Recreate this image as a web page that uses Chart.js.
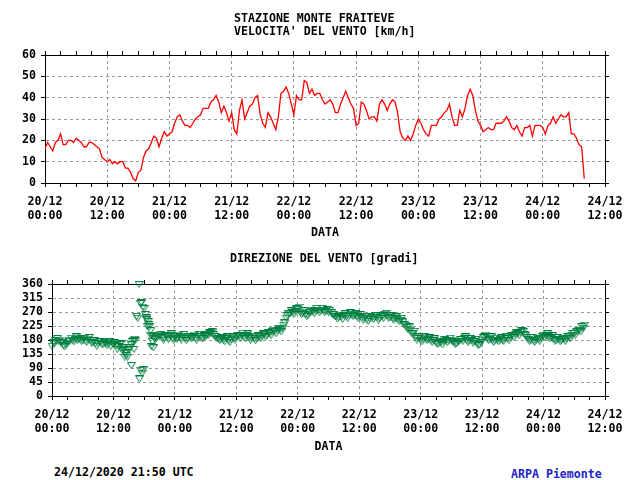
<!DOCTYPE html>
<html>
<head>
<meta charset="utf-8">
<script src="https://cdn.jsdelivr.net/npm/chart.js@4.4.0/dist/chart.umd.min.js"></script>
<style>
body { margin: 0; background: #fff; }
#wrap { position: relative; width: 640px; height: 480px; overflow: hidden; }
canvas { position: absolute; left: 0; }
.t { position: absolute; font-family: 'DejaVu Sans Mono', monospace; font-weight: bold; font-size: 11.6px; line-height: 14px; white-space: pre; color: #000; }
</style>
</head>
<body>
<div id="wrap">
  <canvas id="speed" width="640" height="240" style="top:0"></canvas>
  <canvas id="dir" width="640" height="209" style="top:245px"></canvas>
  <div class="t" style="left:234px; top:11px">STAZIONE MONTE FRAITEVE</div>
  <div class="t" style="left:234px; top:24px">VELOCITA' DEL VENTO [km/h]</div>
  <div class="t" style="left:230px; top:251px">DIREZIONE DEL VENTO [gradi]</div>
  <div class="t" style="left:54px; top:465px">24/12/2020 21:50 UTC</div>
  <div class="t" style="left:511px; top:467px; color:#2424c4">ARPA Piemonte</div>
</div>
<script>
// x axis: hours since 20/12 00:00, labels every 12 h
var dayLabels = ['20/12', '20/12', '21/12', '21/12', '22/12', '22/12', '23/12', '23/12', '24/12', '24/12'];
var timeLabels = ['00:00', '12:00', '00:00', '12:00', '00:00', '12:00', '00:00', '12:00', '00:00', '12:00'];

// wind speed km/h, one reading every half hour from 20/12 00:00
var speed = [
    16, 19, 17, 15, 19, 20, 23, 18, 18, 20, 20, 19,
    21, 20, 19, 17, 17, 19, 19, 18, 17, 16, 12, 11,
    10, 11, 9, 10, 9, 10, 10, 7, 7, 5, 2, 1,
    5, 6, 12, 15, 16, 19, 22, 21, 17, 21, 24, 22,
    23, 24, 28, 31, 32, 29, 27, 27, 26, 28, 30, 31,
    32, 35, 35, 35, 38, 39, 41, 38, 33, 36, 33, 29,
    33, 25, 23, 34, 39, 30, 33, 36, 37, 40, 41, 32,
    28, 26, 33, 31, 28, 25, 31, 42, 43, 45, 42, 37,
    32, 41, 39, 39, 48, 47, 42, 44, 41, 42, 42, 39,
    37, 38, 39, 37, 33, 33, 37, 40, 43, 40, 37, 35,
    27, 28, 38, 37, 34, 30, 31, 31, 29, 37, 39, 37,
    34, 37, 39, 38, 33, 24, 21, 20, 22, 20, 23, 27,
    30, 28, 25, 23, 22, 27, 27, 27, 30, 31, 33, 34,
    37, 31, 27, 27, 34, 31, 35, 41, 44, 41, 34, 29,
    27, 24, 25, 26, 25, 25, 28, 28, 28, 29, 31, 29,
    26, 25, 27, 24, 22, 26, 26, 27, 22, 27, 27, 27,
    26, 23, 27, 28, 31, 28, 30, 32, 31, 31, 33, 23,
    23, 21, 18, 17, 2
];

// wind direction degrees, on the hour and half hour
var direction = [
    160, 168, 185, 180, 172, 158, 170, 176, 180, 182, 178, 185,
    180, 177, 183, 179, 172, 168, 170, 174, 165, 170, 168, 160,
    166, 162, 158, 168, 150, 140,
    148, 165, 180, 256, 358, 300, 281, 245, 222, 196, 185, 190,
    192, 188, 186, 190, 194, 186,
    190, 185, 188, 192, 186, 184, 190, 188, 186, 192, 190, 186,
    190, 195, 200, 198, 192, 186, 182, 180, 184, 178, 182, 186,
    190, 194, 195, 190, 194, 188, 186, 184, 186, 190, 192, 198,
    196, 200, 206, 208, 210, 214, 218, 235, 258, 265, 268, 272,
    279, 270, 266, 262, 260, 268, 271, 275, 274, 276, 275, 272,
    270, 268, 262, 255, 252, 254, 258, 256, 260, 263, 258, 256,
    255, 252, 250, 247, 250, 253, 252, 252, 250, 256, 263, 258,
    252, 250, 248, 247, 244, 238, 228, 215, 212, 201, 190, 185,
    180, 183, 186, 182, 180, 178, 172, 168, 172, 175, 178, 180,
    180, 172, 168, 175, 182, 185, 180, 177, 178, 175, 170, 164,
    180, 190, 186, 182, 180, 178, 180, 182, 180, 184, 185, 190,
    196, 198, 201, 205, 207, 195, 182, 180, 178, 180, 182, 186,
    196, 194, 190, 188, 182, 180, 181, 180, 182, 185, 190, 196,
    201, 206, 212, 223, 228
];

// wind direction degrees at quarter past / quarter to
var directionQuarter = [
    172, 178, 176, 170, 162, 166, 180, 186, 174, 190, 182, 176,
    186, 172, 188, 170, 178, 160, 176, 166, 172, 162, 174, 170,
    172, 150, 166, 155, 138, 125,
    155, 175, 178, 250, 297, 286, 262, 240, 210, 190, 182, 196,
    198, 180, 194, 182, 200, 180,
    182, 196, 180, 198, 178, 192, 184, 196, 180, 198, 184, 194,
    198, 204, 206, 192, 184, 178, 188, 174, 190, 172, 190, 180,
    196, 186, 202, 184, 200, 180, 192, 178, 194, 184, 200, 190,
    204, 194, 212, 200, 218, 206, 228, 250, 264, 274, 262, 280,
    286, 262, 274, 256, 268, 276, 264, 282, 268, 282, 268, 278,
    276, 262, 256, 248, 260, 246, 264, 250, 268, 256, 264, 250,
    262, 244, 256, 240, 256, 246, 258, 244, 258, 250, 266, 250,
    258, 244, 254, 240, 250, 230, 220, 222, 200, 208, 180, 192,
    174, 190, 178, 188, 172, 184, 166, 176, 164, 182, 172, 186,
    174, 166, 176, 182, 176, 190, 172, 184, 170, 182, 162, 172,
    188, 196, 178, 190, 172, 186, 174, 188, 176, 192, 178, 196,
    188, 204, 194, 210, 198, 188, 176, 188, 172, 186, 176, 192,
    188, 200, 184, 194, 176, 188, 174, 186, 176, 192, 184, 202,
    196, 212, 206, 218
];

// scattered readings during the shift on 20/12 afternoon
var dirExtraHours = [13.8, 14.2, 14.5, 15.5, 16.0, 16.2, 17.1, 17.3, 17.6, 17.8, 18.4, 18.6, 18.9, 19.2, 19.4, 19.6, 19.8];
var dirExtraValues = [145, 125, 130, 98, 150, 183, 55, 83, 73, 84, 251, 224, 230, 196, 159, 175, 155];

Chart.defaults.font.family = "'DejaVu Sans Mono', monospace";
Chart.defaults.font.size = 11.6;
Chart.defaults.font.weight = 'bold';
Chart.defaults.color = '#000';

function points(values, start) {
    return values.map(function (v, i) { return { x: start + i * 0.5, y: v }; });
}

function triangleMarker() {
    var c = document.createElement('canvas');
    c.width = 9;
    c.height = 7;
    var g = c.getContext('2d');
    g.strokeStyle = '#008040';
    g.lineWidth = 1;
    g.beginPath();
    g.moveTo(0.5, 0.5);
    g.lineTo(8.5, 0.5);
    g.lineTo(4.5, 6.5);
    g.closePath();
    g.stroke();
    return c;
}

function scales(yMin, yMax, yStep, leftW, topH, bottomH) {
    return {
        x: {
            type: 'linear', position: 'bottom', min: 0, max: 108,
            ticks: {
                stepSize: 3, autoSkip: false, maxRotation: 0, minRotation: 0, padding: 8,
                callback: function (v) {
                    return v % 12 === 0 ? [dayLabels[v / 12], timeLabels[v / 12]] : '';
                }
            },
            grid: {
                color: function (c) { return c.tick && c.tick.value % 12 === 0 ? '#9a9a9a' : 'rgba(0,0,0,0)'; },
                tickColor: '#000', tickLength: 4
            },
            border: { color: '#000', width: 1, dash: [3, 3] },
            title: { display: true, text: 'DATA', padding: 0 },
            afterFit: function (s) { s.height = bottomH; }
        },
        xTop: {
            type: 'linear', position: 'top', min: 0, max: 108, display: true,
            ticks: { stepSize: 3, display: false },
            grid: { drawOnChartArea: false, tickColor: '#000', tickLength: 4 },
            border: { color: '#000', width: 1 },
            afterFit: function (s) { s.height = topH; }
        },
        y: {
            position: 'left', min: yMin, max: yMax,
            ticks: { stepSize: yStep, padding: 5, autoSkip: false },
            grid: {
                color: function (c) { return c.tick && c.tick.value > yMin && c.tick.value < yMax ? '#9a9a9a' : 'rgba(0,0,0,0)'; },
                tickColor: '#000', tickLength: 4
            },
            border: { color: '#000', width: 1, dash: [3, 3] },
            afterFit: function (s) { s.width = leftW; }
        },
        yRight: {
            position: 'right', min: yMin, max: yMax, display: true,
            ticks: { stepSize: yStep, display: false, autoSkip: false },
            grid: { drawOnChartArea: false, tickColor: '#000', tickLength: 4 },
            border: { color: '#000', width: 1 },
            afterFit: function (s) { s.width = 35; }
        }
    };
}

new Chart(document.getElementById('speed'), {
    type: 'line',
    data: {
        datasets: [{
            data: points(speed, 0),
            borderColor: '#ff0000',
            borderWidth: 1.3,
            pointRadius: 0,
            tension: 0
        }]
    },
    options: {
        responsive: false,
        animation: false,
        layout: { padding: 0 },
        plugins: { legend: { display: false }, tooltip: { enabled: false } },
        scales: scales(0, 60, 10, 45, 55, 57)
    }
});

var marker = triangleMarker();
var dirPoints = points(direction, 0)
    .concat(points(directionQuarter, 0.25))
    .concat(dirExtraHours.map(function (h, i) { return { x: h, y: dirExtraValues[i] }; }));

new Chart(document.getElementById('dir'), {
    type: 'scatter',
    data: {
        datasets: [{
            data: dirPoints,
            pointStyle: marker,
            pointRadius: 4,
            borderColor: '#008040',
            backgroundColor: 'rgba(0,0,0,0)',
            clip: 6
        }]
    },
    options: {
        responsive: false,
        animation: false,
        layout: { padding: 0 },
        plugins: { legend: { display: false }, tooltip: { enabled: false } },
        scales: scales(0, 360, 45, 52, 39, 58)
    }
});
</script>
</body>
</html>
